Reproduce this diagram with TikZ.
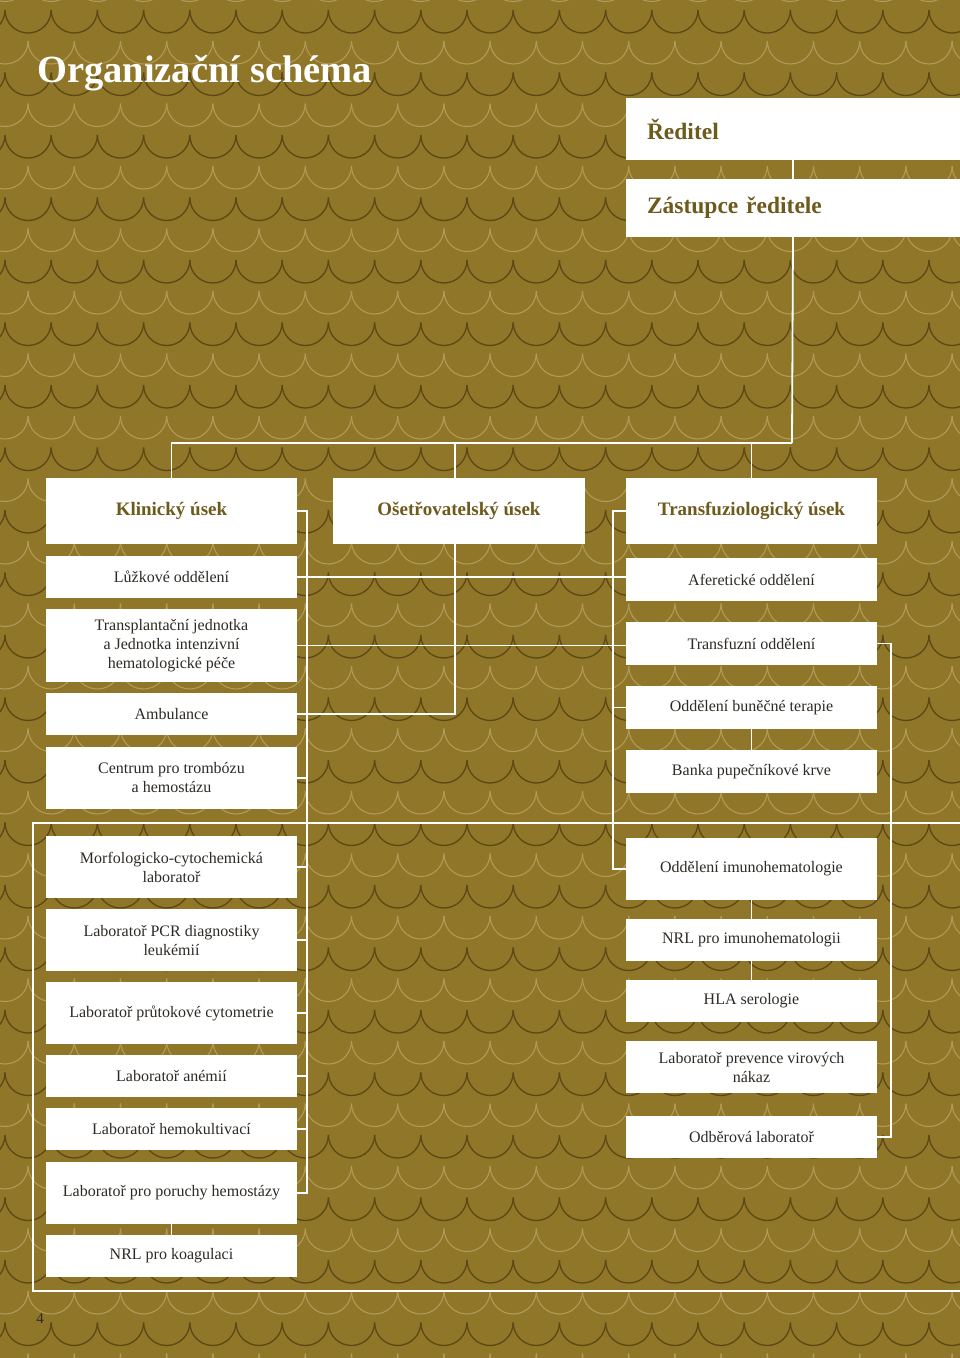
\documentclass[tikz,border=0pt]{standalone}
\usepackage{fontspec}
\setmainfont{Liberation Serif}
\definecolor{bg}{HTML}{8F7628}
\definecolor{scd}{HTML}{5C4816}
\definecolor{scl}{HTML}{B39A58}
\definecolor{txt}{HTML}{2E2A25}
\definecolor{hd}{HTML}{6E5A1C}
\newcommand\bx[7][box]{\node[#1, minimum width={#5-#3}, minimum height={#6-#4}] (#2) at ({(#3+#5)/2},{(#4+#6)/2}) {#7};}
\begin{document}
\begin{tikzpicture}[x=1pt,y=-1pt,
  box/.style={fill=white, inner sep=0pt, outer sep=0pt, align=center, text=txt, font=\fontsize{16}{19}\selectfont},
  head/.style={box, text=hd, font=\fontsize{19}{21}\selectfont\bfseries},
  topbox/.style={fill=white, inner xsep=21pt, inner ysep=0pt, outer sep=0pt, text width=292pt, align=left, text=hd, font=\fontsize{23.5}{26}\selectfont\bfseries},
  conn/.style={draw=white, line width=1.8pt},
  scale dark/.style={draw=scd, line width=1.3pt},
  scale light/.style={draw=scl, line width=1.1pt},
]
\useasboundingbox (0,0) rectangle (960,1358);
\fill[bg] (0,0) rectangle (960,1358);
% fish-scale background
\begin{scope}
\clip (0,0) rectangle (960,1358);
\foreach \r in {0,...,22}{
  \pgfmathsetmacro\yd{10+62.5*\r-62.5}
  \pgfmathsetmacro\yl{41+62.5*\r-62.5}
  \foreach \j in {-1,...,21}{
    \pgfmathsetmacro\xd{5+46.2*\j}
    \pgfmathsetmacro\xl{28.1+46.2*\j}
    \draw[scale light] (\xl,\yl) .. controls (\xl,\yl+12.7) and (\xl+10.3,\yl+23) .. (\xl+23.1,\yl+23) .. controls (\xl+35.9,\yl+23) and (\xl+46.2,\yl+12.7) .. (\xl+46.2,\yl);
    \draw[scale dark] (\xd,\yd) .. controls (\xd,\yd+12.7) and (\xd+10.3,\yd+23) .. (\xd+23.1,\yd+23) .. controls (\xd+35.9,\yd+23) and (\xd+46.2,\yd+12.7) .. (\xd+46.2,\yd);
  }
}
\end{scope}

% title and page number
\node[anchor=base west, inner sep=0pt, text=white, font=\fontsize{38.5}{42}\selectfont\bfseries] (title) at (37,82) {Organizační schéma};
\node[anchor=base, inner sep=0pt, text=txt, font=\fontsize{15}{17}\selectfont] (pg) at (40,1323) {4};

% top boxes
\node[topbox, minimum height=62pt] (red) at (793,129) {Ředitel};
\node[topbox, minimum height=58pt] (zas) at (793,208) {Zástupce ředitele};

% section heads
\bx[head]{kli}{46}{478}{297}{544}{Klinický úsek}
\bx[head]{ose}{333}{478}{585}{544}{Ošetřovatelský úsek}
\bx[head]{tra}{626}{478}{877}{544}{Transfuziologický úsek}

% left column
\bx{luz}{46}{556}{297}{598}{Lůžkové oddělení}
\bx{tjp}{46}{609}{297}{682}{Transplantační jednotka\\a Jednotka intenzivní\\hematologické péče}
\bx{amb}{46}{693}{297}{735}{Ambulance}
\bx{cen}{46}{747}{297}{809}{Centrum pro trombózu\\a hemostázu}
\bx{mor}{46}{836}{297}{898}{Morfologicko-cytochemická\\laboratoř}
\bx{pcr}{46}{909}{297}{971}{Laboratoř PCR diagnostiky\\leukémií}
\bx{cyt}{46}{982}{297}{1044}{Laboratoř průtokové cytometrie}
\bx{ane}{46}{1055}{297}{1097}{Laboratoř anémií}
\bx{hem}{46}{1108}{297}{1150}{Laboratoř hemokultivací}
\bx{por}{46}{1162}{297}{1224}{Laboratoř pro poruchy hemostázy}
\bx{nrk}{46}{1235}{297}{1277}{NRL pro koagulaci}

% right column
\bx{afe}{626}{558}{877}{601}{Aferetické oddělení}
\bx{tfz}{626}{622}{877}{665}{Transfuzní oddělení}
\bx{bun}{626}{686}{877}{729}{Oddělení buněčné terapie}
\bx{ban}{626}{750}{877}{793}{Banka pupečníkové krve}
\bx{imu}{626}{838}{877}{900}{Oddělení imunohematologie}
\bx{nri}{626}{919}{877}{961}{NRL pro imunohematologii}
\bx{hla}{626}{980}{877}{1022}{HLA serologie}
\bx{lpv}{626}{1041}{877}{1093}{Laboratoř prevence virových\\nákaz}
\bx{odb}{626}{1116}{877}{1158}{Odběrová laboratoř}

% helper coordinates
\coordinate (hub) at (792,443);
\coordinate (mid) at (455,0);
\coordinate (lbx) at (307,0);
\coordinate (rbx) at (613,0);
\coordinate (obx) at (891,0);
\coordinate (fr1) at (960,823);
\coordinate (fl1) at (33,823);
\coordinate (fl2) at (33,1291);
\coordinate (fr2) at (960,1291);

% connectors: top
\draw[conn] (red.south) -- (zas.north);
\draw[conn] (zas.south) -- (hub);
\draw[conn] (kli.north) |- (hub);
\draw[conn] (ose.north -| mid) -- (hub -| mid);
\draw[conn] (tra.north) -- (tra.north |- hub);

% cross lines
\draw[conn] (luz.east) -- (luz.east -| afe.west);
\draw[conn] (tjp.east) -- (tjp.east -| tfz.west);
\draw[conn] (amb.east) -- (amb.east -| mid) -- (ose.south -| mid);

% left bracket
\draw[conn] (kli.east) -- (kli.east -| lbx) -- (por.east -| lbx) -- (por.east);
\foreach \n in {cen,mor,pcr,cyt,ane,hem}{
  \draw[conn] (\n.east) -- (\n.east -| lbx);
}
\draw[conn] (por.south) -- (nrk.north);

% right inner bracket
\draw[conn] (tra.west) -- (tra.west -| rbx) -- (imu.west -| rbx) -- (imu.west);
\draw[conn] (bun.west) -- (bun.west -| rbx);
\draw[conn] (bun.south) -- (ban.north);
\draw[conn] (imu.south) -- (nri.north);
\draw[conn] (nri.south) -- (hla.north);

% right outer bracket
\draw[conn] (tfz.east) -- (tfz.east -| obx) -- (odb.east -| obx) -- (odb.east);

% outer frame line
\draw[conn] (fr1) -- (fl1) -- (fl2) -- (fr2);
\end{tikzpicture}
\end{document}
